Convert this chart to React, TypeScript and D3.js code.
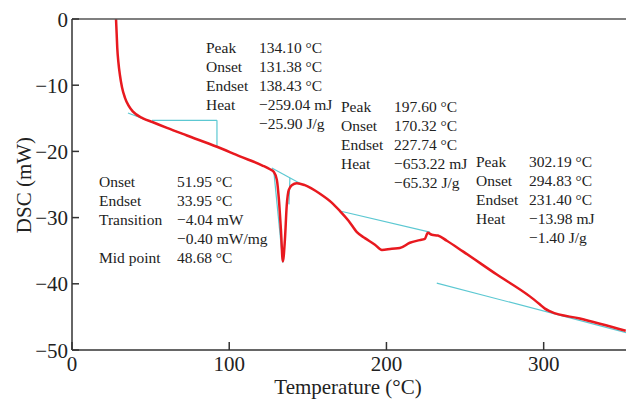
import React from "react";
import * as d3 from "d3";

const temps = [28.0, 28.4, 28.8, 29.5, 30.5, 31.8, 33.7, 36.0, 38.8, 45.1, 51.5, 60.4, 73.1, 92.2, 106.8, 120.8, 125.9, 128.4, 130.3, 131.6, 132.9, 134.1, 135.4, 136.6, 137.9, 139.8, 143.0, 148.1, 157.7, 165.0, 170.4, 176.0, 181.2, 186.3, 192.7, 197.1, 203.4, 208.5, 214.9, 221.2, 224.4, 226.3, 228.9, 232.7, 238.4, 248.6, 270.2, 291.2, 297.5, 300.8, 304.5, 323.0, 352.2];
const dsc = [0, -2.2, -4.4, -6.5, -8.5, -10.3, -11.9, -13.1, -14.0, -15.0, -15.6, -16.45, -17.6, -19.3, -20.75, -22.1, -22.7, -23.1, -24.3, -27.3, -31.9, -36.6, -33.4, -28.1, -25.8, -25.1, -24.8, -25.1, -26.4, -27.7, -29.0, -30.5, -32.2, -33.1, -34.1, -34.9, -34.7, -34.6, -33.8, -33.4, -33.2, -32.3, -32.6, -32.7, -33.5, -35.1, -38.6, -41.9, -43.1, -43.75, -44.2, -45.25, -47.1];

// tangent / baseline construction lines [x1, y1, x2, y2]
const guideLines: [number, number, number, number][] = [
  [35.6, -14.2, 92.2, -19.3],
  [50.9, -15.3, 92.2, -15.3],
  [92.2, -15.3, 92.2, -19.3],
  [127.1, -22.5, 144.9, -24.8],
  [128.4, -23.1, 134.1, -36.8],
  [138.6, -24.0, 138.0, -28.0],
  [170.4, -29.0, 227.6, -32.2],
  [232.0, -39.9, 353.0, -47.4],
];

const xTicks = [0, 100, 200, 300];
const yTicks = [0, -10, -20, -30, -40, -50];

const block1Labels = ["Peak", "Onset", "Endset", "Heat", ""];
const block1Values = ["134.10 °C", "131.38 °C", "138.43 °C", "−259.04 mJ", "−25.90 J/g"];
const block2Labels = ["Peak", "Onset", "Endset", "Heat", ""];
const block2Values = ["197.60 °C", "170.32 °C", "227.74 °C", "−653.22 mJ", "−65.32 J/g"];
const block3Labels = ["Peak", "Onset", "Endset", "Heat", ""];
const block3Values = ["302.19 °C", "294.83 °C", "231.40 °C", "−13.98 mJ", "−1.40 J/g"];
const block4Labels = ["Onset", "Endset", "Transition", "", "Mid point"];
const block4Values = ["51.95 °C", "33.95 °C", "−4.04 mW", "−0.40 mW/mg", "48.68 °C"];

const W = 626;
const H = 399;
const FONT = "'Liberation Serif', 'Times New Roman', serif";

export default function App() {
  const x = d3.scaleLinear().domain([0, 353]).range([72, 627]);
  const y = d3.scaleLinear().domain([-50, 0]).range([350, 19]);
  const pts: [number, number][] = temps.map((t, i) => [t, dsc[i]]);
  const line = d3
    .line<[number, number]>()
    .x((d) => x(d[0]))
    .y((d) => y(d[1]))
    .curve(d3.curveMonotoneX);

  const blocks = [
    { labels: block1Labels, values: block1Values, lx: 206, vx: 259, y0: 53 },
    { labels: block2Labels, values: block2Values, lx: 341, vx: 394, y0: 112 },
    { labels: block3Labels, values: block3Values, lx: 476, vx: 529, y0: 167 },
    { labels: block4Labels, values: block4Values, lx: 99, vx: 177, y0: 187 },
  ];
  const lh = 19.1;

  return (
    <svg
      width={W}
      height={H}
      style={{ position: "absolute", left: 0, top: 0, background: "#fff" }}
      fontFamily={FONT}
    >
      <rect x={0} y={0} width={W} height={H} fill="#fff" />
      {guideLines.map((g, i) => (
        <line
          key={"g" + i}
          x1={x(g[0])}
          y1={y(g[1])}
          x2={x(g[2])}
          y2={y(g[3])}
          stroke="#5cc8d2"
          strokeWidth={1.2}
        />
      ))}
      <path d={line(pts) || ""} fill="none" stroke="#e8191f" strokeWidth={2.5} strokeLinejoin="round" />
      <line x1={72} y1={19} x2={W} y2={19} stroke="#555" strokeWidth={1.5} />
      <line x1={72} y1={19} x2={72} y2={350} stroke="#333" strokeWidth={1.5} />
      <line x1={72} y1={350} x2={W} y2={350} stroke="#333" strokeWidth={1.5} />
      {xTicks.map((t) => (
        <g key={"x" + t}>
          <line x1={x(t)} x2={x(t)} y1={350} y2={342} stroke="#333" strokeWidth={1.5} />
          <text x={x(t)} y={371} textAnchor="middle" fontSize={21} fill="#222">
            {t}
          </text>
        </g>
      ))}
      {yTicks.map((t) => (
        <g key={"y" + t}>
          <line x1={72} x2={79} y1={y(t)} y2={y(t)} stroke="#333" strokeWidth={1.5} />
          <text x={68} y={y(t) + 7.5} textAnchor="end" fontSize={21} fill="#222">
            {t === 0 ? "0" : "−" + Math.abs(t)}
          </text>
        </g>
      ))}
      <text x={348} y={394} textAnchor="middle" fontSize={21} fill="#222">
        Temperature (°C)
      </text>
      <text
        transform="translate(31,185) rotate(-90)"
        textAnchor="middle"
        fontSize={21}
        fill="#222"
      >
        DSC (mW)
      </text>
      {blocks.map((b, bi) => (
        <g key={"b" + bi} fontSize={15.5} fill="#222">
          {b.labels.map((l, i) => (
            <text key={"l" + i} x={b.lx} y={b.y0 + i * lh}>
              {l}
            </text>
          ))}
          {b.values.map((v, i) => (
            <text key={"v" + i} x={b.vx} y={b.y0 + i * lh}>
              {v}
            </text>
          ))}
        </g>
      ))}
    </svg>
  );
}
